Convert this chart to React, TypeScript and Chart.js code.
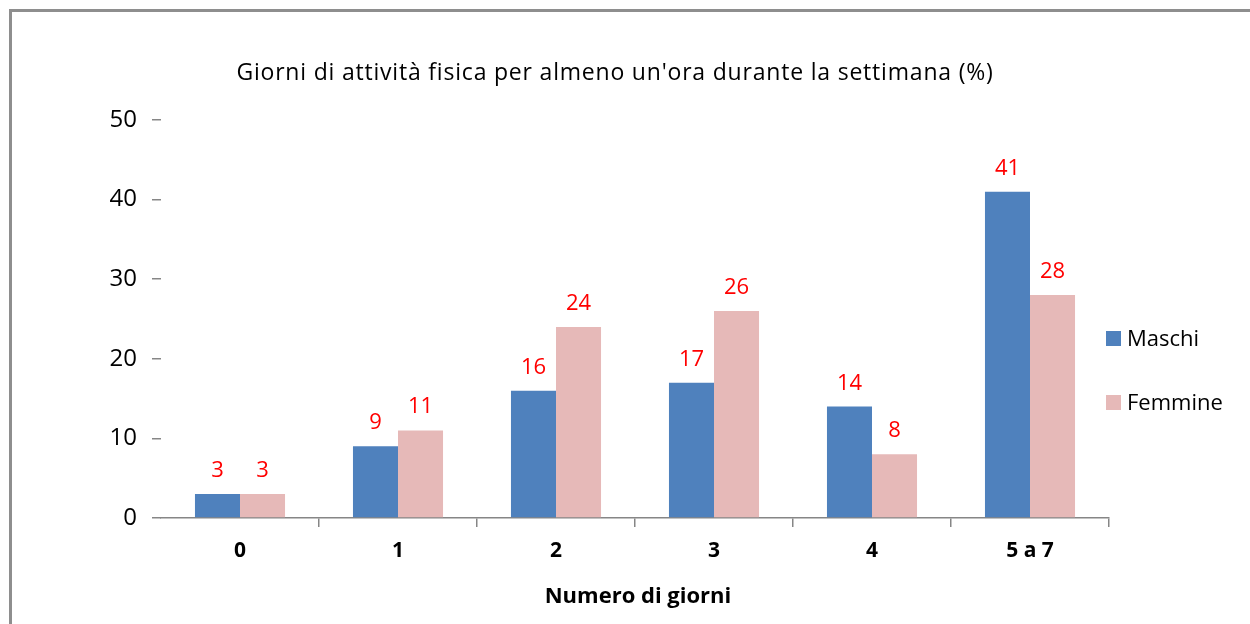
import React, { useEffect, useRef } from "react";
import { Chart, registerables } from "chart.js";

Chart.register(...registerables);

const categories = ["0", "1", "2", "3", "4", "5 a 7"];
const maschi = [3, 9, 16, 17, 14, 41];
const femmine = [3, 11, 24, 26, 8, 28];
const yTicks = [0, 10, 20, 30, 40, 50];
const seriesNames = ["Maschi", "Femmine"];
const titleText = "Giorni di attività fisica per almeno un'ora durante la settimana (%)";
const xTitleText = "Numero di giorni";

const FONT = "'Open Sans', Lato, sans-serif";
const BLUE = "#4f81bd";
const PINK = "#e6b9b8";
const AXIS = "#868686";

const customPlugin = {
  id: "custom",
  beforeDraw(chart: any) {
    const { ctx, width, height } = chart;
    ctx.save();
    ctx.fillStyle = "#ffffff";
    ctx.fillRect(0, 0, width, height);
    ctx.strokeStyle = "#8e8e8e";
    ctx.lineWidth = 3;
    ctx.strokeRect(10.5, 10.5, width + 20, height + 20);
    ctx.restore();
  },
  afterDraw(chart: any) {
    const { ctx } = chart;
    ctx.save();
    // title
    ctx.fillStyle = "#000000";
    ctx.font = `500 23px ${FONT}`;
    ctx.textAlign = "center";
    ctx.textBaseline = "alphabetic";
    (ctx as any).letterSpacing = "0.8px";
    ctx.fillText(titleText, 615, 80);
    (ctx as any).letterSpacing = "0px";
    // x axis title
    ctx.font = `bold 22px ${FONT}`;
    ctx.fillText(xTitleText, 638, 603);
    // data labels
    ctx.fillStyle = "#ff0000";
    ctx.font = `22px ${FONT}`;
    chart.data.datasets.forEach((ds: any, i: number) => {
      const meta = chart.getDatasetMeta(i);
      meta.data.forEach((bar: any, j: number) => {
        ctx.fillText(String(ds.data[j]), bar.x, bar.y - 17);
      });
    });
    // legend
    ctx.textAlign = "left";
    ctx.textBaseline = "middle";
    ctx.font = `22px ${FONT}`;
    chart.data.datasets.forEach((ds: any, i: number) => {
      const cy = 338.5 + i * 64;
      ctx.fillStyle = ds.backgroundColor;
      ctx.fillRect(1106, cy - 7.5, 15, 15);
      ctx.fillStyle = "#000000";
      ctx.fillText(ds.label, 1127, cy + 1);
    });
    ctx.restore();
  },
};

export default function App() {
  const ref = useRef<HTMLCanvasElement | null>(null);
  useEffect(() => {
    if (!ref.current) return;
    const chart = new Chart(ref.current, {
      type: "bar",
      data: {
        labels: categories,
        datasets: [
          { label: seriesNames[0], data: maschi, backgroundColor: BLUE, categoryPercentage: 0.57, barPercentage: 1 },
          { label: seriesNames[1], data: femmine, backgroundColor: PINK, categoryPercentage: 0.57, barPercentage: 1 },
        ],
      },
      options: {
        responsive: false,
        animation: false,
        layout: { padding: { left: 0, top: 120, right: 141, bottom: 0 } },
        plugins: {
          legend: { display: false },
          title: { display: false },
          tooltip: { enabled: false },
        },
        scales: {
          x: {
            afterFit: (s: any) => { s.height = 106; },
            border: { display: true, color: AXIS, width: 1.5 },
            grid: {
              offset: true,
              drawOnChartArea: false,
              drawTicks: true,
              tickLength: 9,
              color: (c: any) => (c.index === 0 ? "rgba(0,0,0,0)" : AXIS),
              lineWidth: 1.5,
            },
            ticks: {
              color: "#000000",
              padding: 11,
              font: { family: FONT, size: 21, weight: "bold" },
            },
            title: { display: false },
          },
          y: {
            min: 0,
            max: 50,
            afterFit: (s: any) => { s.width = 161; },
            afterBuildTicks: (s: any) => { s.ticks = yTicks.map((v) => ({ value: v })); },
            border: { display: false },
            grid: {
              drawOnChartArea: false,
              drawTicks: true,
              tickLength: 9,
              color: AXIS,
              lineWidth: 1.5,
            },
            ticks: {
              color: "#000000",
              padding: 15,
              font: { family: FONT, size: 24 },
            },
          },
        },
      },
      plugins: [customPlugin],
    });
    return () => chart.destroy();
  }, []);
  return (
    <div style={{ position: "absolute", left: 0, top: 0, width: 1250, height: 624 }}>
      <canvas ref={ref} width={1250} height={624} style={{ width: 1250, height: 624, display: "block" }} />
    </div>
  );
}
